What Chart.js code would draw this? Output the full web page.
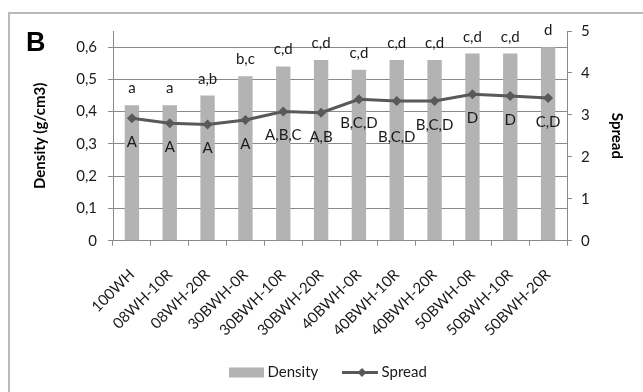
<!DOCTYPE html>
<html>
<head>
<meta charset="utf-8">
<script src="https://cdn.jsdelivr.net/npm/chart.js@4"></script>
<style>
  html, body { margin: 0; padding: 0; background: #fff; }
  #wrap { width: 643px; height: 392px; position: relative; }
</style>
</head>
<body>
<div id="wrap"><canvas id="c" width="643" height="392"></canvas></div>
<script>
const categories = ['100WH','08WH-10R','08WH-20R','30BWH-0R','30BWH-10R','30BWH-20R','40BWH-0R','40BWH-10R','40BWH-20R','50BWH-0R','50BWH-10R','50BWH-20R'];
const density = [0.42, 0.42, 0.45, 0.51, 0.54, 0.56, 0.53, 0.56, 0.56, 0.58, 0.58, 0.60];
const spread = [2.92, 2.80, 2.77, 2.88, 3.08, 3.05, 3.37, 3.33, 3.33, 3.49, 3.45, 3.40];
const densityGroups = ['a','a','a,b','b,c','c,d','c,d','c,d','c,d','c,d','c,d','c,d','d'];
const spreadGroups = ['A','A','A','A','A,B,C','A,B','B,C,D','B,C,D','B,C,D','D','D','C,D'];
const densityTicks = [0, 0.1, 0.2, 0.3, 0.4, 0.5, 0.6];
const panelLabel = 'B';

const FONT = 'Lato';
const FS = 15;
const TXT = '#1a1a1a';
const GRID = '#8a8a8a';
const BAR = '#b3b3b3';
const LINE = '#595959';

const decorPlugin = {
  id: 'decor',
  beforeDraw(chart) {
    const ctx = chart.ctx;
    ctx.save();
    ctx.fillStyle = '#fff';
    ctx.fillRect(0, 0, chart.width, chart.height);
    ctx.strokeStyle = '#b9b9b9';
    ctx.lineWidth = 2;
    ctx.strokeRect(9, 13, 800, 600);
    ctx.restore();
  },
  afterDatasetsDraw(chart) {
    const ctx = chart.ctx;
    ctx.save();
    ctx.fillStyle = TXT;
    ctx.font = FS + 'px ' + FONT;
    ctx.textAlign = 'center';
    const barMeta = chart.getDatasetMeta(0);
    barMeta.data.forEach((el, i) => {
      ctx.textBaseline = 'alphabetic';
      ctx.fillText(densityGroups[i], el.x, el.y - 12);
    });
    // labels below the spread points, in two staggered rows when they would collide
    const lineMeta = chart.getDatasetMeta(1);
    const rowRight = [-Infinity, -Infinity];
    lineMeta.data.forEach((el, i) => {
      const txt = spreadGroups[i];
      const w = ctx.measureText(txt).width;
      const left = el.x - w / 2;
      const row = left < rowRight[0] + 1 ? 1 : 0;
      rowRight[row] = el.x + w / 2;
      if (row === 1) rowRight[0] = -Infinity;
      ctx.textBaseline = 'middle';
      ctx.fillText(txt, el.x, el.y + 24 + row * 12);
    });
    // panel label
    ctx.font = 'bold 27px "Liberation Sans"';
    ctx.textAlign = 'left';
    ctx.textBaseline = 'middle';
    ctx.fillStyle = '#000';
    ctx.fillText(panelLabel, 26, 44);
    // legend
    const ly = 372.5;
    let x = 229;
    ctx.font = FS + 'px ' + FONT;
    ctx.fillStyle = BAR;
    ctx.fillRect(x, ly - 5, 35, 10);
    x += 38.5;
    ctx.fillStyle = TXT;
    ctx.textBaseline = 'middle';
    const l0 = chart.data.datasets[0].label;
    ctx.fillText(l0, x, ly);
    x = 342;
    ctx.strokeStyle = LINE;
    ctx.lineWidth = 3;
    ctx.beginPath();
    ctx.moveTo(x, ly);
    ctx.lineTo(x + 36, ly);
    ctx.stroke();
    ctx.fillStyle = LINE;
    ctx.beginPath();
    const cx = x + 20;
    ctx.moveTo(cx, ly - 4.5);
    ctx.lineTo(cx + 4.5, ly);
    ctx.lineTo(cx, ly + 4.5);
    ctx.lineTo(cx - 4.5, ly);
    ctx.closePath();
    ctx.fill();
    ctx.fillStyle = TXT;
    ctx.fillText(chart.data.datasets[1].label, 381.5, ly);
    ctx.restore();
  }
};

new Chart(document.getElementById('c'), {
  type: 'bar',
  data: {
    labels: categories,
    datasets: [
      {
        type: 'bar',
        label: 'Density',
        data: density,
        backgroundColor: BAR,
        borderWidth: 0,
        barPercentage: 0.38,
        categoryPercentage: 1.0,
        yAxisID: 'y',
        order: 2
      },
      {
        type: 'line',
        label: 'Spread',
        data: spread,
        borderColor: LINE,
        backgroundColor: LINE,
        borderWidth: 3,
        pointStyle: 'rectRot',
        pointRadius: 5,
        pointBorderWidth: 0,
        tension: 0,
        yAxisID: 'y1',
        order: 1
      }
    ]
  },
  options: {
    responsive: false,
    animation: false,
    devicePixelRatio: 1,
    layout: { padding: { left: 30, right: 14, top: 31, bottom: 0 } },
    plugins: {
      legend: { display: false },
      tooltip: { enabled: false }
    },
    scales: {
      x: {
        offset: true,
        grid: { offset: true, drawOnChartArea: false, drawTicks: true, tickLength: 5, color: GRID },
        border: { color: GRID },
        ticks: {
          autoSkip: false, maxRotation: 45, minRotation: 45, padding: 20,
          color: TXT, font: { family: FONT, size: FS }
        },
        afterFit(s) { s.height = 151.3; }
      },
      y: {
        position: 'left',
        min: 0, max: 0.65,
        afterBuildTicks(s) { s.ticks = densityTicks.map(v => ({ value: v })); },
        grid: { color: GRID, tickLength: 5 },
        border: { color: GRID },
        ticks: {
          padding: 11, color: TXT, font: { family: FONT, size: FS },
          callback: v => (v === 0 ? '0' : (Math.round(v * 10) / 10).toFixed(1).replace('.', ','))
        },
        title: { display: true, text: 'Density (g/cm3)', color: '#000', font: { family: FONT, size: 15, weight: 'bold' }, padding: { top: 1, bottom: 4 } },
        afterFit(s) { s.width = 83; }
      },
      y1: {
        position: 'right',
        min: 0, max: 5,
        ticks: { stepSize: 1, padding: 9, color: TXT, font: { family: FONT, size: FS } },
        grid: { drawOnChartArea: false, tickLength: 5, color: GRID },
        border: { color: GRID },
        title: { display: true, text: 'Spread', color: '#000', font: { family: FONT, size: 15, weight: 'bold' }, padding: { top: 3, bottom: 4 } },
        afterFit(s) { s.width = 62; }
      }
    }
  },
  plugins: [decorPlugin]
});
</script>
</body>
</html>
